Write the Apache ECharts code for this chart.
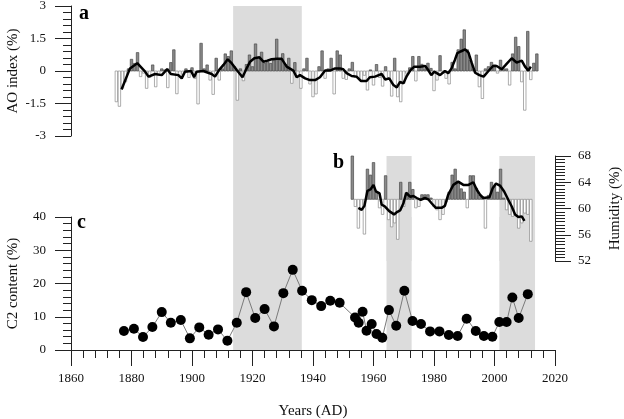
<!DOCTYPE html>
<html><head><meta charset="utf-8">
<script src="https://cdn.jsdelivr.net/npm/echarts@6/dist/echarts.min.js"></script>
<style>html,body{margin:0;padding:0;background:#fff}#c{width:624px;height:419px}</style>
</head><body><div id="c"></div>
<script>
// ---- data ----
const aoStartYear = 1875;
const aoValues = [
 -1.42,-1.63,-0.8,-0.5,0.1,0.54,0.35,0.85,-0.26,-0.1,
 -0.8,-0.3,0.28,-0.73,-0.2,0.1,0.05,-0.77,0.39,0.98,
 -1.05,-0.26,-0.15,0.1,-0.3,0.15,-0.35,-1.52,1.28,0.1,
 0.28,-0.42,-1.08,0.59,-0.42,0.1,0.79,0.67,0.93,0.2,
 -1.35,0.1,-0.45,0.3,0.74,0.2,1.25,0.63,0.87,0.35,
 0.43,0.35,0.5,1.47,0.5,0.8,0.3,0.59,-0.57,0.39,
 -0.26,-0.8,0.1,0.59,-0.6,-1.19,-1.06,0.2,0.93,-0.34,
 0.1,0.59,-1.06,0.93,0.74,-0.34,-0.39,0.1,0.4,-0.3,
 -0.34,-0.42,-0.2,-0.88,0.05,-0.65,0.3,-0.3,-0.7,0.2,
 -0.3,-1.16,0.59,-1.19,-1.42,-0.57,-0.1,0.15,0.67,-0.46,
 0.67,0.31,0.1,0.36,0.12,-0.91,-0.42,0.71,-0.1,-0.34,
 -0.6,0.4,0.1,0.98,1.47,1.9,0.98,0.5,0.1,0.74,
 -0.73,-1.27,0.1,0.2,0.4,0.28,-0.1,0.5,0.1,0.1,
 -0.65,0.79,1.56,1.13,-0.5,-1.81,1.83,-0.4,0.36,0.79
];
const aoLineYears = [1876.7,1879.5,1881.9,1884.5,1885.6,1887.8,1890,1891.8,1893,1895.5,1896.6,1897.7,1899.7,1900.7,1901.5,1903.7,1906.5,1907.6,1909,1910.4,1911.8,1913.1,1914.8,1916.7,1917.9,1919.2,1920.6,1922.3,1923.6,1924.9,1926.3,1928.2,1929.6,1931.3,1933.5,1934.6,1935.7,1937.4,1939,1940.7,1942.3,1944,1945.6,1947.3,1948.9,1950,1951.1,1952.8,1954.4,1955.8,1957.7,1958.8,1960.5,1962.7,1963.9,1965.2,1966.6,1967.7,1968.8,1969.9,1971,1972.3,1973.5,1975.4,1977.1,1978.2,1979.1,1980.1,1982,1983.6,1984.7,1985.8,1986.9,1987.7,1988.8,1990.3,1991.4,1992.5,1993.6,1995,1996.4,1998,1999.5,2000.7,2002.4,2003.7,2005.7,2007.3,2009,2010.1,2011.2,2012];
const aoLineValues = [-0.85,0.12,0.36,-0.03,-0.26,-0.14,-0.19,0.09,-0.14,-0.19,-0.34,-0.03,0.0,-0.29,-0.03,0.0,-0.14,-0.26,0.05,0.28,0.54,0.36,0.05,-0.29,0.08,0.43,0.59,0.63,0.43,0.48,0.54,0.57,0.57,0.2,0.02,-0.29,-0.19,-0.34,-0.42,-0.42,-0.29,0.02,0.02,0.12,0.12,0.08,-0.1,-0.23,-0.26,-0.46,-0.46,-0.29,-0.26,-0.14,-0.39,-0.34,-0.65,-0.76,-0.5,-0.57,-0.23,0.05,0.2,0.2,0.23,0.02,-0.19,-0.03,-0.19,0.0,-0.1,0.12,0.51,0.82,0.9,1.0,0.85,0.36,-0.08,-0.19,-0.26,0.0,0.23,0.23,0.08,0.28,0.59,0.39,0.48,0.2,0.02,0.2];

const humStartYear = 1953;
const humBase = 61.4;
const humValues = [68.0,60.3,57.0,60.0,56.1,66.0,65.1,67.0,62.5,60.1,59.1,65.0,58.3,57.2,57.8,55.3,64.0,60.3,62.0,64.0,62.9,60.1,60.3,62.1,62.1,62.1,61.6,60.3,59.8,58.3,59.1,61.0,62.5,65.1,66.0,64.0,63.0,62.5,60.1,65.0,65.0,63.1,62.0,61.8,57.0,62.0,64.0,63.4,62.5,66.0,61.6,59.8,59.1,58.8,59.0,57.0,57.8,59.3,59.1,55.0];
const humLineYears = [1955,1956.1,1957,1958,1959,1960,1960.8,1962,1962.7,1963.8,1965.2,1966.8,1967.6,1968.8,1969.9,1970.8,1972.1,1973.2,1974.3,1975.6,1977,1978.1,1979.2,1980.6,1982.5,1983.6,1984.7,1986.4,1988,1989.7,1991.4,1993,1994.1,1995.2,1996.3,1998.3,1999.4,2000.5,2001.8,2003.2,2004.6,2005.7,2006.8,2007.9,2009,2009.9];
const humLineValues = [60.1,59.8,60.4,62.7,62.9,63.6,62.6,62.3,60.6,60.3,59.6,59.1,59.4,59.7,60.8,62.4,61.8,61.9,61.6,61.3,61.6,61.4,60.8,60.1,60.1,60.4,62.1,63.6,64.1,63.6,63.6,64.0,62.9,62.1,61.6,61.7,63.1,63.8,63.5,62.6,61.3,60.3,59.1,58.7,58.8,58.1];

const c2Years = [1877.5,1880.8,1883.8,1886.9,1890,1893,1896.3,1899.3,1902.4,1905.5,1908.6,1911.7,1914.8,1917.9,1920.9,1924,1927.1,1930.2,1933.3,1936.4,1939.6,1942.7,1945.7,1948.8,1953.9,1955.1,1956.4,1957.7,1959.4,1961,1962.9,1965.1,1967.5,1970.2,1972.9,1975.7,1978.7,1981.8,1984.9,1987.8,1990.8,1993.8,1996.5,1999.3,2001.6,2004,2005.9,2008,2011];
const c2Values = [5.7,6.4,3.9,6.9,11.4,8.2,9.0,3.5,6.8,4.6,6.2,2.8,8.2,17.4,9.6,12.3,7.1,17.1,24.1,17.8,15.0,13.2,14.8,14.2,9.8,8.2,11.5,5.8,7.8,4.8,3.7,12.0,7.3,17.8,8.7,7.8,5.6,5.6,4.5,4.2,9.4,5.7,4.2,4.0,8.4,8.4,15.8,9.6,16.8];

const bandAll = [1913.6, 1936.3];
const bandsLower = [[1964.3, 1972.6], [2001.6, 2013.4]];

const xTicks = {min: 1860, max: 2020, interval: 20};
const aoTicks = {min: -3, max: 3, interval: 1.5};
const humTicks = {min: 52, max: 68, interval: 4};
const c2Ticks = {min: 0, max: 40, interval: 10};

// ---- chart ----
const FONT = '"Liberation Serif", "DejaVu Serif", serif';
const AX = '#222';
const BAND = '#dcdcdc';
const chart = echarts.init(document.getElementById('c'), null, {renderer: 'canvas'});

function hiddenX(gi) {
  return {type: 'value', gridIndex: gi, min: xTicks.min, max: xTicks.max, show: false};
}
function yStyle(o) {
  return Object.assign({
    type: 'value',
    axisLine: {show: true, onZero: false, lineStyle: {color: AX, width: 1}},
    axisTick: {show: true, length: 16, lineStyle: {color: AX, width: 1}},
    minorTick: {show: true, splitNumber: 5, length: 8, lineStyle: {color: AX, width: 1}},
    splitLine: {show: false},
    axisLabel: {color: '#111', fontFamily: FONT, fontSize: 13, margin: 25},
    nameLocation: 'middle', nameRotate: 90, nameMoveOverlap: false,
    nameTextStyle: {color: '#111', fontFamily: FONT, fontSize: 15}
  }, o);
}

// anomaly bars drawn through the axes (base value -> data value)
function makeBarRenderer(base) {
  return function (params, api) {
    const x = api.value(0), v = api.value(1);
    const p0 = api.coord([x, base]);
    const p1 = api.coord([x, v]);
    const w = api.size([1, 0])[0] * 0.82;
    const pos = v >= base;
    return {
      type: 'rect',
      shape: {x: p0[0] - w / 2, y: Math.min(p0[1], p1[1]), width: w, height: Math.abs(p1[1] - p0[1])},
      style: {fill: pos ? '#8a8a8a' : '#fff', stroke: pos ? '#4a4a4a' : '#8a8a8a', lineWidth: 0.7}
    };
  };
}

const gridBase = {left: 71, right: 69, containLabel: false, outerBoundsMode: 'none'};
const option = {
  animation: false,
  backgroundColor: '#fff',
  grid: [
    Object.assign({top: 6, height: 344}, gridBase),
    Object.assign({top: 6, height: 130}, gridBase),
    Object.assign({top: 156, height: 105}, gridBase),
    Object.assign({top: 217, height: 133}, gridBase)
  ],
  xAxis: [
    hiddenX(0), hiddenX(1), hiddenX(2),
    {
      type: 'value', gridIndex: 3, min: xTicks.min, max: xTicks.max, interval: xTicks.interval,
      axisLine: {show: true, onZero: false, lineStyle: {color: AX, width: 1}},
      axisTick: {show: true, length: 16, lineStyle: {color: AX, width: 1}},
      minorTick: {show: true, splitNumber: 5, length: 8, lineStyle: {color: AX, width: 1}},
      splitLine: {show: false},
      axisLabel: {color: '#111', fontFamily: FONT, fontSize: 13, margin: 22, formatter: v => String(v)},
      name: 'Years (AD)', nameLocation: 'middle', nameGap: 54, nameMoveOverlap: false,
      nameTextStyle: {color: '#111', fontFamily: FONT, fontSize: 15}
    }
  ],
  yAxis: [
    {type: 'value', gridIndex: 0, min: 0, max: 1, show: false},
    yStyle({gridIndex: 1, min: aoTicks.min, max: aoTicks.max, interval: aoTicks.interval,
            name: 'AO index (%)', nameGap: 50}),
    yStyle({gridIndex: 2, position: 'right', min: humTicks.min, max: humTicks.max, interval: humTicks.interval,
            minorTick: {show: true, splitNumber: 8, length: 10, lineStyle: {color: AX, width: 1}},
            axisLabel: {color: '#111', fontFamily: FONT, fontSize: 13, margin: 23},
            name: 'Humidity (%)', nameGap: 53}),
    yStyle({gridIndex: 3, min: c2Ticks.min, max: c2Ticks.max, interval: c2Ticks.interval,
            name: 'C2 content (%)', nameGap: 50})
  ],
  series: [
    {type: 'line', xAxisIndex: 0, yAxisIndex: 0, data: [], z: 1, silent: true,
     markArea: {silent: true, itemStyle: {color: BAND}, data: [[{xAxis: bandAll[0]}, {xAxis: bandAll[1]}]]}},
    {type: 'line', xAxisIndex: 2, yAxisIndex: 2, data: [], z: 1, silent: true,
     markArea: {silent: true, itemStyle: {color: BAND}, data: bandsLower.map(b => [{xAxis: b[0]}, {xAxis: b[1]}])}},
    {type: 'line', xAxisIndex: 3, yAxisIndex: 3, data: [], z: 1, silent: true,
     markArea: {silent: true, itemStyle: {color: BAND}, data: bandsLower.map(b => [{xAxis: b[0]}, {xAxis: b[1]}])}},
    {type: 'custom', xAxisIndex: 1, yAxisIndex: 1, renderItem: makeBarRenderer(0),
     data: aoValues.map((v, i) => [aoStartYear + i, v]), z: 3, silent: true},
    {type: 'line', xAxisIndex: 1, yAxisIndex: 1, data: aoLineYears.map((y, i) => [y, aoLineValues[i]]),
     showSymbol: false, lineStyle: {color: '#000', width: 2.5}, z: 4, silent: true},
    {type: 'custom', xAxisIndex: 2, yAxisIndex: 2, renderItem: makeBarRenderer(humBase),
     data: humValues.map((h, i) => [humStartYear + i, h]), z: 3, silent: true},
    {type: 'line', xAxisIndex: 2, yAxisIndex: 2, data: humLineYears.map((y, i) => [y, humLineValues[i]]),
     showSymbol: false, lineStyle: {color: '#000', width: 2.5}, z: 4, silent: true},
    {type: 'line', xAxisIndex: 3, yAxisIndex: 3, data: c2Years.map((y, i) => [y, c2Values[i]]),
     symbol: 'circle', symbolSize: 10, showSymbol: true,
     itemStyle: {color: '#000', borderWidth: 0}, lineStyle: {color: '#7a7a7a', width: 1}, z: 4, silent: true}
  ],
  graphic: [
    {type: 'text', left: 79, top: 4, style: {text: 'a', font: 'bold 20px "Liberation Serif"', fill: '#000'}},
    {type: 'text', left: 333, top: 153, style: {text: 'b', font: 'bold 20px "Liberation Serif"', fill: '#000'}},
    {type: 'text', left: 77, top: 213, style: {text: 'c', font: 'bold 20px "Liberation Serif"', fill: '#000'}}
  ]
};
chart.setOption(option);
</script>
</body></html>
